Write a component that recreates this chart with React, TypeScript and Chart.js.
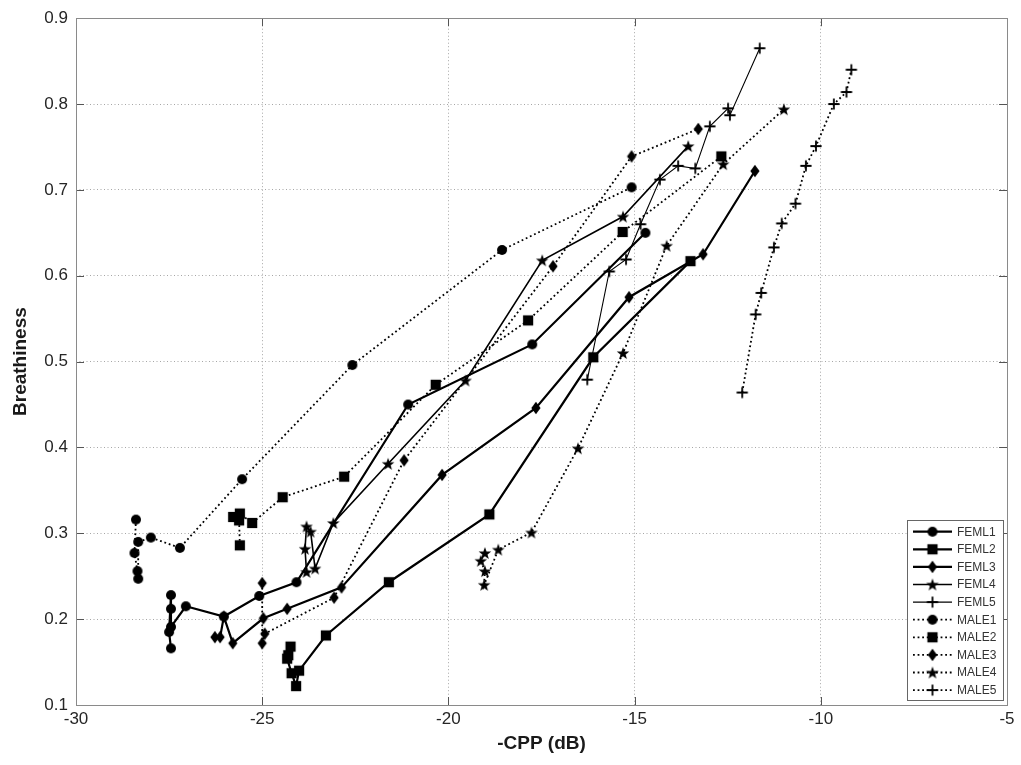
import React, { useEffect, useRef } from "react";
import { Chart, registerables } from "chart.js";

Chart.register(...registerables);

// ---- axis ticks ----
const xTickValues = [-30, -25, -20, -15, -10, -5];
const yTickValues = [0.1, 0.2, 0.3, 0.4, 0.5, 0.6, 0.7, 0.8, 0.9];
const xTitle = "-CPP (dB)";
const yTitle = "Breathiness";

// ---- series ----
const seriesNames = ["FEML1", "FEML2", "FEML3", "FEML4", "FEML5", "MALE1", "MALE2", "MALE3", "MALE4", "MALE5"];

const feml1X = [-27.45, -27.5, -27.45, -27.45, -27.45, -27.05, -26.03, -25.08, -24.08, -21.08, -17.75, -14.71];
const feml1Y = [0.166, 0.185, 0.228, 0.212, 0.191, 0.215, 0.203, 0.227, 0.243, 0.45, 0.52, 0.65];

const feml2X = [-24.24, -24.3, -24.33, -24.21, -24.09, -24.01, -23.29, -21.6, -18.9, -16.11, -13.5];
const feml2Y = [0.168, 0.158, 0.154, 0.137, 0.122, 0.14, 0.181, 0.243, 0.322, 0.505, 0.617];

const feml3X = [-26.27, -26.13, -26.03, -25.79, -24.97, -24.33, -22.87, -20.17, -17.65, -15.15, -13.16, -11.77];
const feml3Y = [0.179, 0.179, 0.203, 0.172, 0.201, 0.212, 0.237, 0.368, 0.446, 0.575, 0.625, 0.722];

const feml4X = [-23.81, -23.85, -23.81, -23.7, -23.58, -23.09, -21.62, -19.54, -17.48, -15.31, -13.56];
const feml4Y = [0.255, 0.282, 0.308, 0.302, 0.259, 0.312, 0.381, 0.478, 0.618, 0.669, 0.751];

const feml5X = [-16.27, -15.68, -15.23, -14.84, -14.32, -13.83, -13.37, -12.98, -12.49, -12.44, -11.64];
const feml5Y = [0.479, 0.605, 0.619, 0.66, 0.712, 0.728, 0.725, 0.774, 0.795, 0.787, 0.865];

const male1X = [-28.39, -28.43, -28.35, -28.33, -28.33, -27.99, -27.21, -25.54, -22.58, -18.56, -15.08];
const male1Y = [0.316, 0.277, 0.256, 0.247, 0.29, 0.295, 0.283, 0.363, 0.496, 0.63, 0.703];

const male2X = [-25.6, -25.62, -25.78, -25.6, -25.27, -24.45, -22.8, -20.34, -17.86, -15.32, -12.67];
const male2Y = [0.286, 0.315, 0.319, 0.323, 0.312, 0.342, 0.366, 0.473, 0.548, 0.651, 0.739];

const male3X = [-25.0, -25.0, -24.93, -23.07, -21.19, -17.19, -15.08, -13.29];
const male3Y = [0.242, 0.172, 0.183, 0.225, 0.385, 0.611, 0.739, 0.771];

const male4X = [-19.02, -19.13, -19.02, -19.04, -18.66, -17.77, -16.52, -15.31, -14.14, -12.62, -10.99];
const male4Y = [0.277, 0.268, 0.256, 0.24, 0.281, 0.301, 0.399, 0.51, 0.635, 0.73, 0.794];

const male5X = [-12.11, -11.75, -11.6, -11.26, -11.05, -10.68, -10.4, -10.13, -9.65, -9.31, -9.18];
const male5Y = [0.464, 0.555, 0.58, 0.633, 0.661, 0.684, 0.728, 0.751, 0.8, 0.814, 0.84];

type Shape = "circle" | "square" | "diamond" | "star" | "plus";
const seriesShapes: Shape[] = ["circle", "square", "diamond", "star", "plus", "circle", "square", "diamond", "star", "plus"];
const seriesDotted = [false, false, false, false, false, true, true, true, true, true];
const seriesWidths = [2.2, 2.2, 2.2, 1.6, 1.1, 1.8, 1.8, 1.8, 1.8, 1.8];
const DOT_DASH = [1.8, 2.8];

const FONT = "'Liberation Sans', Arial, Helvetica, sans-serif";

function makeMarker(shape: Shape): HTMLCanvasElement {
  const c = document.createElement("canvas");
  c.width = 16;
  c.height = 16;
  const ctx = c.getContext("2d") as CanvasRenderingContext2D;
  const m = 8;
  ctx.fillStyle = "#000";
  ctx.strokeStyle = "#000";
  ctx.beginPath();
  if (shape === "circle") {
    ctx.arc(m, m, 5, 0, Math.PI * 2);
    ctx.fill();
  } else if (shape === "square") {
    ctx.fillRect(m - 5.1, m - 5.1, 10.2, 10.2);
  } else if (shape === "diamond") {
    ctx.moveTo(m, m - 6.2);
    ctx.lineTo(m + 4.6, m);
    ctx.lineTo(m, m + 6.2);
    ctx.lineTo(m - 4.6, m);
    ctx.closePath();
    ctx.fill();
  } else if (shape === "star") {
    const R = 6.6, r = 2.7;
    for (let k = 0; k < 10; k++) {
      const a = -Math.PI / 2 + (k * Math.PI) / 5;
      const rad = k % 2 === 0 ? R : r;
      const px = m + rad * Math.cos(a);
      const py = m + 0.6 + rad * Math.sin(a);
      if (k === 0) ctx.moveTo(px, py);
      else ctx.lineTo(px, py);
    }
    ctx.closePath();
    ctx.fill();
  } else {
    ctx.lineWidth = 1.8;
    ctx.moveTo(m - 5.6, m);
    ctx.lineTo(m + 5.6, m);
    ctx.moveTo(m, m - 5.6);
    ctx.lineTo(m, m + 5.6);
    ctx.stroke();
  }
  return c;
}

export default function App() {
  const ref = useRef<HTMLCanvasElement>(null);

  useEffect(() => {
    const canvas = ref.current;
    if (!canvas) return;
    const markers = seriesShapes.map(makeMarker);
    const xs = [feml1X, feml2X, feml3X, feml4X, feml5X, male1X, male2X, male3X, male4X, male5X];
    const ys = [feml1Y, feml2Y, feml3Y, feml4Y, feml5Y, male1Y, male2Y, male3Y, male4Y, male5Y];

    const datasets = seriesNames.map((name, i) => ({
      label: name,
      data: xs[i].map((x, j) => ({ x, y: ys[i][j] })),
      showLine: true,
      borderColor: "#000",
      backgroundColor: "#000",
      borderWidth: seriesWidths[i],
      borderDash: seriesDotted[i] ? DOT_DASH : [],
      pointStyle: markers[i],
      pointRadius: 5,
      pointHoverRadius: 5,
      tension: 0,
      fill: false,
    }));

    const framePlugin = {
      id: "frame",
      afterDatasetsDraw(chart: any) {
        const { ctx, chartArea, scales } = chart;
        const { left, right, top, bottom } = chartArea;
        ctx.save();
        ctx.setLineDash([]);
        ctx.strokeStyle = "#555";
        ctx.lineWidth = 1;
        const tl = 8;
        ctx.beginPath();
        xTickValues.forEach((v) => {
          const px = Math.round(scales.x.getPixelForValue(v)) + 0.5;
          ctx.moveTo(px, bottom);
          ctx.lineTo(px, bottom - tl);
          ctx.moveTo(px, top);
          ctx.lineTo(px, top + tl);
        });
        yTickValues.forEach((v) => {
          const py = Math.round(scales.y.getPixelForValue(v)) + 0.5;
          ctx.moveTo(left, py);
          ctx.lineTo(left + tl, py);
          ctx.moveTo(right, py);
          ctx.lineTo(right - tl, py);
        });
        ctx.stroke();
        ctx.strokeStyle = "#8a8a8a";
        ctx.strokeRect(Math.round(left) + 0.5, Math.round(top) + 0.5, Math.round(right - left), Math.round(bottom - top));
        ctx.restore();
      },
      afterDraw(chart: any) {
        const { ctx } = chart;
        const bx = 907.5, by = 520.5, bw = 96, bh = 180;
        ctx.save();
        ctx.fillStyle = "#fff";
        ctx.fillRect(bx, by, bw, bh);
        ctx.strokeStyle = "#666";
        ctx.lineWidth = 1;
        ctx.setLineDash([]);
        ctx.strokeRect(bx, by, bw, bh);
        const y0 = 531.7, step = 17.6;
        seriesNames.forEach((name, i) => {
          const y = y0 + i * step;
          ctx.beginPath();
          ctx.strokeStyle = "#000";
          ctx.lineWidth = seriesWidths[i];
          ctx.setLineDash(seriesDotted[i] ? DOT_DASH : []);
          ctx.moveTo(913, y);
          ctx.lineTo(952, y);
          ctx.stroke();
          ctx.setLineDash([]);
          const mk = markers[i];
          ctx.drawImage(mk, 932.5 - mk.width / 2, y - mk.height / 2);
          ctx.fillStyle = "#333";
          ctx.font = `12px ${FONT}`;
          ctx.textBaseline = "middle";
          ctx.textAlign = "left";
          ctx.fillText(name, 957, y + 0.5);
        });
        ctx.restore();
      },
    };

    const chart = new Chart(canvas, {
      type: "scatter",
      data: { datasets: datasets as any },
      options: {
        animation: false,
        responsive: false,
        devicePixelRatio: 1,
        layout: { padding: { left: 0, top: 16, right: 14, bottom: 0 } },
        plugins: {
          legend: { display: false },
          tooltip: { enabled: false },
        },
        scales: {
          x: {
            type: "linear",
            min: -30,
            max: -5,
            afterBuildTicks: (s: any) => {
              s.ticks = xTickValues.map((v) => ({ value: v }));
            },
            afterFit: (s: any) => {
              s.height = 60;
            },
            ticks: {
              padding: 4,
              color: "#262626",
              font: { family: FONT, size: 17 },
              callback: (v: any) => String(v),
              maxRotation: 0,
            },
            grid: { color: "#a6a6a6", lineWidth: 1, drawTicks: false },
            border: { display: false, dash: [1, 2.5] },
            title: {
              display: true,
              text: xTitle,
              color: "#1a1a1a",
              font: { family: FONT, size: 19, weight: "bold" },
              padding: { top: 0, bottom: 10 },
            },
          },
          y: {
            type: "linear",
            min: 0.1,
            max: 0.9,
            afterBuildTicks: (s: any) => {
              s.ticks = yTickValues.map((v) => ({ value: v }));
            },
            afterFit: (s: any) => {
              s.width = 76;
            },
            ticks: {
              padding: 8,
              color: "#262626",
              font: { family: FONT, size: 17 },
              callback: (v: any) => Number(v).toFixed(1),
            },
            grid: { color: "#a6a6a6", lineWidth: 1, drawTicks: false },
            border: { display: false, dash: [1, 2.5] },
            title: {
              display: true,
              text: yTitle,
              color: "#1a1a1a",
              font: { family: FONT, size: 19, weight: "bold" },
              padding: { top: 9, bottom: 0 },
            },
          },
        },
      } as any,
      plugins: [framePlugin],
    });

    return () => chart.destroy();
  }, []);

  return (
    <div style={{ position: "absolute", left: 0, top: 0, width: 1021, height: 765, background: "#fff" }}>
      <canvas ref={ref} width={1021} height={765} style={{ display: "block" }} />
    </div>
  );
}
